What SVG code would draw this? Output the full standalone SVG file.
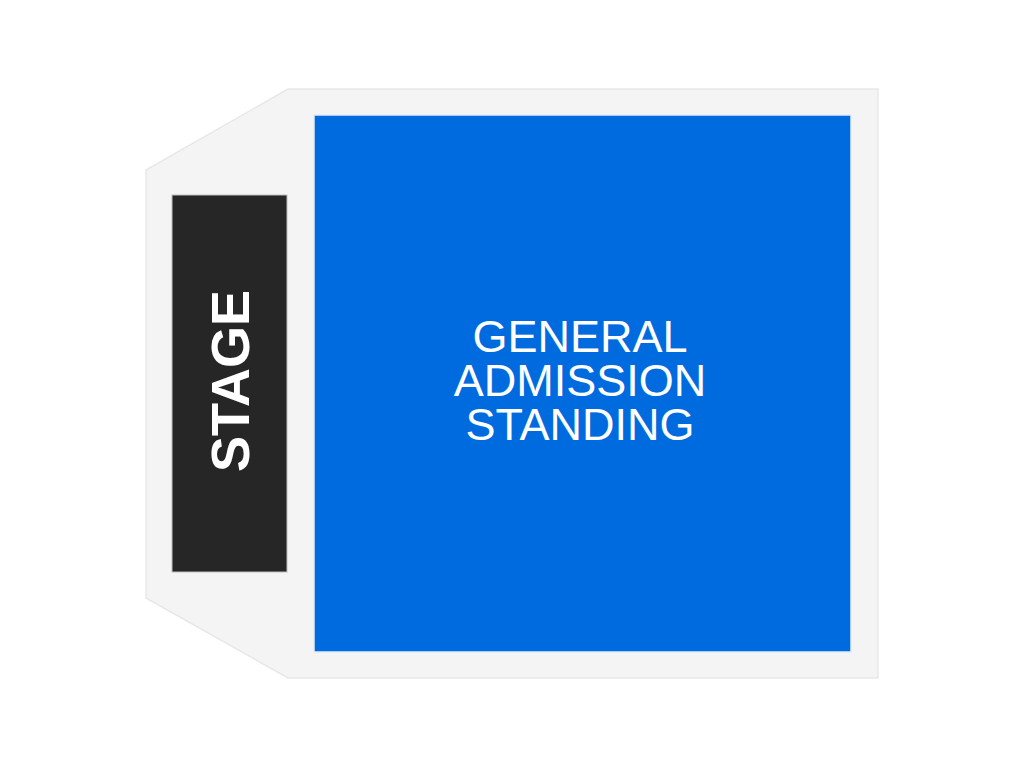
<svg xmlns="http://www.w3.org/2000/svg" width="1024" height="768" viewBox="0 0 1024 768">
<style>
.floor{fill:#f4f4f4;stroke:#e8e8e8;stroke-width:1.5}
.ga{fill:#006bdf;stroke:#e3ecf8;stroke-width:1.5}
.stage{fill:#262626;stroke:#bdbdbd;stroke-width:1}
.gat{font-family:"Liberation Sans",Arial,sans-serif;font-size:45px;fill:#ffffff;text-anchor:middle}
.st{font-family:"Liberation Sans",Arial,sans-serif;font-size:54px;font-weight:bold;fill:#ffffff;text-anchor:middle}
</style>
<rect width="1024" height="768" fill="#ffffff"/>
<g id="floor">
<polygon class="floor" points="288,89 878,89 878,678 288,678 146,598 146,170"/>
</g>
<g id="general-admission">
<rect class="ga" x="314" y="115" width="537" height="537"/>
<text class="gat" x="580" y="352">GENERAL</text>
<text class="gat" x="580" y="396">ADMISSION</text>
<text class="gat" x="580" y="440">STANDING</text>
</g>
<g id="stage">
<rect class="stage" x="172" y="195" width="115" height="377"/>
<text class="st" transform="translate(249,381) rotate(-90)">STAGE</text>
</g>
<g id="connectors"/>
</svg>
